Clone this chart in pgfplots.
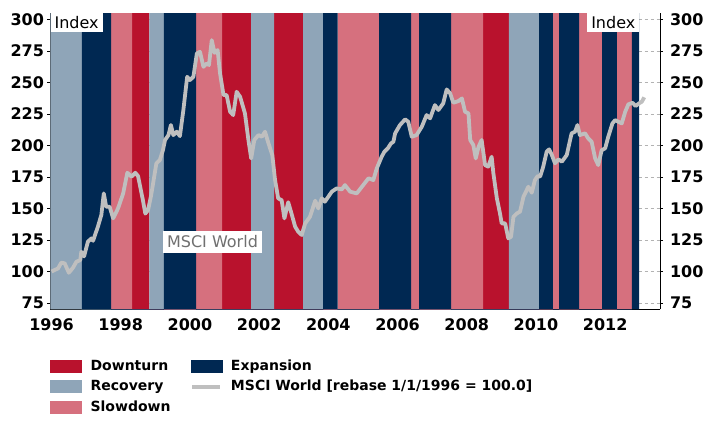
\documentclass[border=0pt]{standalone}
\usepackage{fontspec}
\setmainfont{DejaVu Sans}
\usepackage{pgfplots}
\usepackage{pgfplotstable}
\pgfplotsset{compat=1.18}
\definecolor{cDown}{HTML}{B9122D}
\definecolor{cRec}{HTML}{8FA5B8}
\definecolor{cSlow}{HTML}{D6707E}
\definecolor{cExp}{HTML}{002852}
\definecolor{cLine}{HTML}{BFBFBF}
\definecolor{cLab}{HTML}{707070}

% phase bands: x, height (400 = phase active from x on, 0 = not active)
\pgfplotstableread{
x h
1998.33 400
1998.83 0
2000.93 400
2001.77 0
2002.43 400
2003.27 0
2008.47 400
2009.22 0
}\downturn
\pgfplotstableread{
x h
1995.97 400
1996.88 0
1998.83 400
1999.25 0
2001.77 400
2002.43 0
2003.27 400
2003.85 0
2009.22 400
2010.09 0
}\recovery
\pgfplotstableread{
x h
1997.72 400
1998.33 0
2000.18 400
2000.93 0
2004.27 400
2005.47 0
2006.39 400
2006.62 0
2007.55 400
2008.47 0
2010.49 400
2010.67 0
2011.25 400
2011.91 0
2012.34 400
2012.77 0
}\slowdown
\pgfplotstableread{
x h
1996.88 400
1997.72 0
1999.25 400
2000.18 0
2003.85 400
2004.27 0
2005.47 400
2006.39 0
2006.62 400
2007.55 0
2010.09 400
2010.49 0
2010.67 400
2011.25 0
2011.91 400
2012.34 0
2012.77 400
2012.98 0
}\expansion
\pgfplotstableread{
x y
1996.00 100
1996.19 102.5
1996.28 107
1996.38 106.5
1996.50 99
1996.62 103
1996.72 107.8
1996.83 109
1996.86 115.7
1996.94 112
1997.05 123.6
1997.15 126.3
1997.20 124.4
1997.34 135.6
1997.44 145
1997.51 162
1997.58 151.4
1997.68 151.4
1997.78 142.2
1997.92 150
1998.07 162
1998.19 178.4
1998.31 175.3
1998.42 178.4
1998.50 175.8
1998.64 156.7
1998.71 146
1998.79 148.8
1998.88 160.7
1999.03 185.9
1999.13 188.5
1999.22 196.4
1999.28 204.4
1999.38 208.3
1999.45 216.3
1999.52 208.3
1999.62 211
1999.71 207.5
1999.81 228.2
1999.92 254.6
2000.00 252
2000.10 254.6
2000.20 273.2
2000.29 274.4
2000.39 262.5
2000.49 265.2
2000.55 263.9
2000.63 283.7
2000.71 273.6
2000.80 275.8
2000.87 257.3
2000.97 240.1
2001.06 240.1
2001.16 226.9
2001.25 224.2
2001.35 242.7
2001.45 238.7
2001.59 225.5
2001.69 204.4
2001.77 189.8
2001.86 204.4
2001.98 208.3
2002.08 207
2002.17 211
2002.27 201.7
2002.38 192.5
2002.46 172.6
2002.55 158.1
2002.65 156.7
2002.73 142.2
2002.84 155
2002.92 147.5
2003.04 135.6
2003.13 131.6
2003.23 129
2003.33 138.2
2003.47 143.5
2003.62 156.2
2003.71 150.1
2003.81 158.1
2003.90 155.4
2004.10 163.4
2004.24 166
2004.39 165.2
2004.48 168.6
2004.63 163.4
2004.82 162
2004.97 167.3
2005.16 174
2005.30 172.6
2005.40 181.9
2005.54 191.1
2005.62 195.1
2005.72 197.8
2005.81 201.7
2005.88 203
2005.93 209.7
2006.07 216.3
2006.22 220.8
2006.31 218.9
2006.41 207
2006.55 208.3
2006.70 214.9
2006.84 224.2
2006.94 221.6
2007.08 232.1
2007.18 228.2
2007.32 233.5
2007.42 244.6
2007.52 241.4
2007.61 234
2007.76 235.3
2007.86 237.4
2007.95 226.9
2008.05 225.5
2008.10 204.4
2008.19 200.4
2008.26 189.8
2008.34 199
2008.43 204.4
2008.53 184.5
2008.62 183.2
2008.72 191.1
2008.77 177.9
2008.87 158.1
2008.96 146.2
2009.01 138.2
2009.11 138.2
2009.20 126.3
2009.28 127.6
2009.35 143.5
2009.45 146.2
2009.54 147.5
2009.64 159.4
2009.78 167.3
2009.88 162.6
2009.97 172.6
2010.05 175.8
2010.12 175.3
2010.21 183.2
2010.31 195.1
2010.38 197
2010.46 192.5
2010.55 185.9
2010.65 189
2010.75 187.2
2010.89 192.5
2011.03 209.7
2011.13 211
2011.20 216.3
2011.27 208.3
2011.42 209.7
2011.51 205.7
2011.61 203
2011.71 189.8
2011.80 184.5
2011.90 196.4
2012.00 197.8
2012.09 207
2012.21 217.6
2012.29 220.2
2012.38 218.9
2012.48 217.6
2012.58 226.9
2012.67 232.7
2012.79 234
2012.88 231.4
2012.98 233.5
2013.06 234.8
2013.13 238.3
}\msci

\begin{document}
\begin{tikzpicture}
\path[use as bounding box] (-50.5pt,-114.7pt) rectangle (659.5pt,309.3pt);
\begin{axis}[
  at={(0pt,0pt)}, anchor=south west,
  scale only axis, width=609.5pt, height=296pt,
  xmin=1995.97, xmax=2013.585, ymin=70, ymax=305,
  axis x line*=bottom, axis y line*=left,
  axis line style={black, line width=0.8pt},
  xtick={1996,1998,...,2012},
  ytick={75,100,...,300},
  /pgf/number format/assume math mode=true,
  xticklabel style={/pgf/number format/1000 sep={}, font=\fontsize{16}{16}\selectfont\bfseries, yshift=-3pt},
  yticklabel style={font=\fontsize{16}{16}\selectfont\bfseries},
  tick align=outside,
  major tick length=3pt,
  x tick style={draw=none},
  y tick style={black, line width=0.8pt},
  ymajorgrids, grid style={dashed, black!30, line width=0.8pt},
  legend columns=2,
  legend cell align=left,
  legend style={at={(0,0)}, anchor=north west, xshift=-0.5pt, yshift=-50.5pt,
    draw=none, fill=none, inner sep=0pt,
    font=\fontsize{14}{14}\selectfont\bfseries,
    row sep=8pt,
    nodes={inner sep=0pt, text height=10pt, text depth=2pt},
    /tikz/every odd column/.append style={column sep=9pt},
    /tikz/every even column/.append style={column sep=0pt}},
]
\addplot[ybar interval, fill=cDown, draw=none, forget plot] table[x=x,y=h] {\downturn};
\addplot[ybar interval, fill=cRec, draw=none, forget plot] table[x=x,y=h] {\recovery};
\addplot[ybar interval, fill=cSlow, draw=none, forget plot] table[x=x,y=h] {\slowdown};
\addplot[ybar interval, fill=cExp, draw=none, forget plot] table[x=x,y=h] {\expansion};
\addplot[cLine, line width=3.8pt, line join=round, forget plot] table[x=x,y=y] {\msci};

\node[fill=white, text=black, font=\fontsize{16}{16}\selectfont, inner xsep=3.9pt, inner ysep=3.5pt, text height=12pt, text depth=0pt, anchor=north west] at (rel axis cs:0,1) {Index};
\node[fill=white, text=black, font=\fontsize{16}{16}\selectfont, inner xsep=3.9pt, inner ysep=3.5pt, text height=12pt, text depth=0pt, anchor=north east] at (axis cs:2012.99,305) {Index};
\node[fill=white, text=cLab, font=\fontsize{16}{16}\selectfont, inner xsep=4.5pt, inner ysep=4pt, text height=12pt, text depth=1.5pt] at (axis cs:2000.652,123.5) {MSCI World};

\addlegendimage{legend image code/.code={\fill[cDown] (0pt,-6pt) rectangle (31pt,6pt);}}
\addlegendentry{\makebox[100pt][l]{Downturn}}
\addlegendimage{legend image code/.code={\fill[cExp] (0pt,-6pt) rectangle (31pt,6pt);}}
\addlegendentry{Expansion}
\addlegendimage{legend image code/.code={\fill[cRec] (0pt,-6pt) rectangle (31pt,6pt);}}
\addlegendentry{\makebox[100pt][l]{Recovery}}
\addlegendimage{legend image code/.code={\fill[white, opacity=0] (0pt,-6pt) rectangle (31pt,6pt); \fill[cLine] (1.5pt,-1.9pt) rectangle (28.5pt,1.9pt);}}
\addlegendentry{MSCI World [rebase 1/1/1996 = 100.0]}
\addlegendimage{legend image code/.code={\fill[cSlow] (0pt,-6pt) rectangle (31pt,6pt);}}
\addlegendentry{\makebox[100pt][l]{Slowdown}}
\end{axis}
\begin{axis}[
  at={(0pt,0pt)}, anchor=south west,
  scale only axis, width=609.5pt, height=296pt,
  xmin=1995.97, xmax=2013.585, ymin=70, ymax=305,
  axis y line*=right, axis x line=none,
  axis line style={black, line width=0.8pt},
  ytick={75,100,...,300},
  /pgf/number format/assume math mode=true,
  yticklabel style={font=\fontsize{16}{16}\selectfont\bfseries, xshift=3.5pt},
  tick align=outside,
  major tick length=3pt,
  y tick style={black, line width=0.8pt},
]
\addplot[draw=none] coordinates {(2000,100)};
\end{axis}
\end{tikzpicture}
\end{document}
